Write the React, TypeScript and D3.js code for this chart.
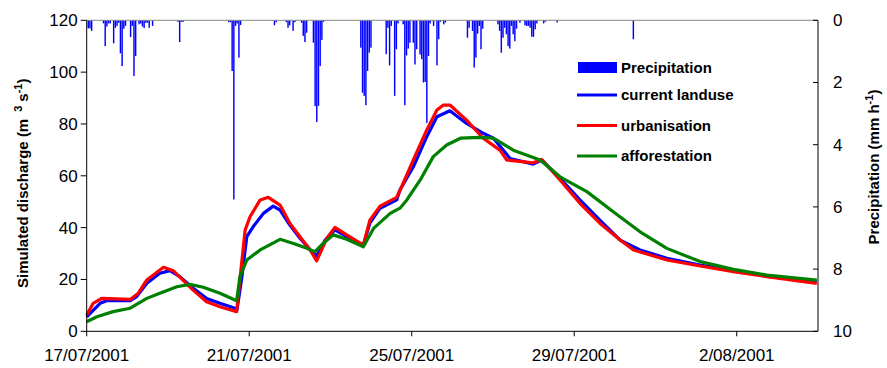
import * as d3 from "d3";

// discharge series: [day offset from 17/07/2001, m3/s]
const currentDays = [0, 0.33, 0.49, 1.07, 1.23, 1.48, 1.8, 2.05, 2.3, 2.62, 2.95, 3.28, 3.65, 3.7, 3.82, 3.94, 4.1, 4.35, 4.59, 4.76, 5.0, 5.25, 5.5, 5.66, 5.87, 6.11, 6.4, 6.81, 6.97, 7.22, 7.63, 7.71, 8.04, 8.37, 8.62, 8.94, 9.35, 9.76, 10.01, 10.42, 10.99, 11.2, 11.65, 12.14, 12.63, 13.13, 13.62, 14.28, 15.1, 15.92, 16.74, 17.97];
const currentQ = [5.6, 10.8, 11.8, 11.8, 13.4, 18.5, 22.4, 23.4, 21, 16.6, 12.7, 10.8, 8.9, 8.3, 21, 36.5, 40.4, 45.5, 48.3, 46.8, 41, 35.9, 31.4, 29, 35.2, 39.1, 36.5, 33.3, 41.7, 47.5, 50.7, 54.5, 63.5, 75.1, 82.8, 85.1, 80.2, 76.4, 74.5, 66.7, 64.5, 66.1, 59, 50.7, 42.9, 35.2, 31.4, 28.2, 25.6, 23.4, 21.3, 19.1];

const urbanDays = [0, 0.16, 0.37, 1.07, 1.27, 1.48, 1.89, 2.13, 2.62, 2.95, 3.28, 3.69, 3.77, 3.9, 4.02, 4.27, 4.47, 4.76, 5.0, 5.25, 5.5, 5.66, 5.91, 6.11, 6.4, 6.81, 6.97, 7.22, 7.63, 7.73, 8.04, 8.37, 8.62, 8.78, 8.94, 9.35, 9.76, 10.17, 10.34, 10.99, 11.2, 11.65, 12.14, 12.63, 13.13, 13.46, 14.28, 15.1, 15.92, 16.74, 17.97];
const urbanQ = [6.3, 10.8, 12.7, 12.3, 14.7, 19.8, 24.7, 23.4, 15.9, 11.4, 9.5, 7.6, 19.8, 39.1, 44.2, 50.7, 51.7, 48.7, 41.7, 36.5, 31.4, 27.2, 35.9, 40.1, 37.2, 33.3, 42.9, 48.3, 51.7, 55, 66.1, 77.7, 85.4, 87.3, 87.3, 81.5, 74.5, 69.9, 66.1, 65, 66.3, 58.4, 49.4, 41.7, 35.2, 31.4, 27.5, 25.2, 23, 21.1, 18.5];

const forestDays = [0, 0.25, 0.65, 1.07, 1.48, 1.8, 2.22, 2.54, 2.87, 3.28, 3.69, 3.77, 3.94, 4.27, 4.76, 5.09, 5.42, 5.62, 5.82, 6.07, 6.4, 6.81, 7.06, 7.47, 7.71, 7.88, 8.21, 8.53, 8.86, 9.2, 9.68, 10.01, 10.5, 11.16, 11.65, 12.31, 12.96, 13.62, 14.28, 15.1, 15.92, 16.74, 17.97];
const forestQ = [3.7, 5.6, 7.6, 8.9, 12.7, 14.7, 17.2, 18.1, 17, 14.7, 11.8, 21, 27.5, 31.4, 35.5, 33.9, 32, 30.7, 33.9, 37.2, 35.5, 32.6, 39.7, 45.5, 47.5, 50.7, 58.4, 67.4, 71.9, 74.5, 74.8, 74.5, 69.9, 66.1, 59.6, 53.9, 46.1, 38.4, 32, 26.9, 23.9, 21.7, 19.8];

// hourly precipitation: hour offset from 17/07/2001 00:00, mm/h
const precipHours = [1, 2, 3, 10, 11, 12, 13, 14, 16, 17, 18, 19, 20, 21, 22, 23, 26, 27, 28, 29, 31, 32, 33, 34, 35, 36, 37, 39, 54, 55, 56, 57, 84, 85, 86, 87, 88, 89, 90, 91, 111, 112, 118, 119, 120, 122, 123, 127, 128, 129, 130, 134, 135, 136, 137, 138, 139, 140, 162, 163, 164, 165, 166, 167, 168, 177, 178, 179, 180, 182, 183, 184, 187, 188, 189, 190, 191, 193, 194, 195, 197, 198, 199, 200, 201, 202, 203, 205, 207, 208, 209, 211, 212, 225, 226, 228, 229, 230, 231, 232, 233, 234, 243, 244, 245, 246, 247, 248, 249, 250, 251, 252, 253, 254, 256, 259, 260, 261, 262, 263, 264, 265, 266, 270, 271, 278, 323];
const precipMm = [0.26, 0.26, 0.34, 0.1, 0.83, 0.2, 0.1, 0.1, 0.74, 0.24, 0.18, 0.08, 1.06, 1.47, 0.27, 0.18, 0.54, 0.18, 1.79, 1.15, 0.13, 0.1, 0.2, 0.25, 0.08, 0.08, 0.24, 0.18, 0.05, 0.7, 0.05, 0.05, 0.06, 0.06, 1.63, 5.76, 0.18, 0.1, 1.2, 0.15, 0.16, 0.06, 0.06, 0.24, 0.16, 0.34, 0.06, 0.08, 0.5, 0.7, 0.4, 0.72, 2.76, 3.27, 2.75, 1.47, 0.63, 0.05, 0.88, 2.33, 2.43, 2.73, 1.63, 1.04, 0.88, 1.09, 0.24, 1.45, 0.18, 2.43, 0.93, 0.1, 0.13, 2.73, 1.13, 0.91, 0.72, 0.72, 1.42, 0.93, 1.1, 1.25, 2.0, 1.98, 3.3, 1.15, 0.1, 0.18, 1.45, 0.61, 0.05, 0.13, 0.07, 0.56, 0.24, 0.34, 1.52, 1.2, 0.43, 0.18, 0.93, 0.27, 0.13, 0.34, 1.04, 0.56, 0.24, 0.45, 0.83, 0.91, 0.18, 0.45, 0.67, 0.27, 0.08, 0.16, 0.18, 0.18, 0.24, 0.53, 0.53, 0.29, 0.1, 0.1, 0.05, 0.07, 0.61];

const xTickDays = [0, 4, 8, 12, 16];
const xTickLabels = ["17/07/2001", "21/07/2001", "25/07/2001", "29/07/2001", "2/08/2001"];
const qTicks = [0, 20, 40, 60, 80, 100, 120];
const pTicks = [0, 2, 4, 6, 8, 10];

const legendLines = [
  { label: "current landuse", color: "#0000ff" },
  { label: "urbanisation", color: "#ff0000" },
  { label: "afforestation", color: "#008000" },
];

const start = new Date(2001, 6, 17);
const toDate = (days: number) => new Date(start.getTime() + days * 864e5);

export default function App() {
  const width = 887;
  const height = 368;
  const left = 86.7;
  const right = 818;
  const top = 20.3;
  const bottom = 331.3;
  const font = "Liberation Sans, Arial, sans-serif";

  const x = d3.scaleTime().domain([start, toDate(18)]).range([left, right]);
  const yQ = d3.scaleLinear().domain([0, 120]).range([bottom, top]);
  const yP = d3.scaleLinear().domain([0, 10]).range([top, bottom]);

  const line = d3
    .line<[number, number]>()
    .x((d) => x(toDate(d[0])))
    .y((d) => yQ(d[1]));

  const series = [
    { days: currentDays, q: currentQ, color: "#0000ff" },
    { days: urbanDays, q: urbanQ, color: "#ff0000" },
    { days: forestDays, q: forestQ, color: "#008000" },
  ];

  const hourW = x(toDate(1 / 24)) - x(start);

  return (
    <svg
      width={width}
      height={height}
      style={{ position: "absolute", left: 0, top: 0, background: "#fff" }}
      fontFamily={font}
    >
      {/* precipitation bars hanging from the top */}
      {precipHours.map((h, i) => (
        <rect
          key={i}
          x={x(toDate(h / 24)) - hourW / 2}
          y={top}
          width={hourW * 0.85}
          height={yP(precipMm[i]) - top}
          fill="#0000ff"
        />
      ))}

      {/* top border */}
      <line x1={left} x2={right} y1={top} y2={top} stroke="#888" strokeWidth={1} />

      {/* discharge lines */}
      {series.map((s, i) => (
        <path
          key={i}
          d={line(s.days.map((d, j) => [d, s.q[j]] as [number, number])) ?? ""}
          fill="none"
          stroke={s.color}
          strokeWidth={3.2}
          strokeLinejoin="round"
        />
      ))}

      {/* left axis */}
      <line x1={left} x2={left} y1={top} y2={bottom} stroke="#000" />
      {qTicks.map((t) => (
        <g key={t}>
          <line x1={left - 6} x2={left} y1={yQ(t)} y2={yQ(t)} stroke="#000" />
          <text x={left - 9} y={yQ(t)} dy="0.35em" textAnchor="end" fontSize={17}>
            {t}
          </text>
        </g>
      ))}

      {/* right axis */}
      <line x1={right} x2={right} y1={top} y2={bottom} stroke="#000" />
      {pTicks.map((t) => (
        <g key={t}>
          <line x1={right - 5} x2={right} y1={yP(t)} y2={yP(t)} stroke="#000" />
          <text x={right + 15} y={yP(t)} dy="0.35em" fontSize={17}>
            {t}
          </text>
        </g>
      ))}

      {/* bottom axis */}
      <line x1={left} x2={right} y1={bottom} y2={bottom} stroke="#000" />
      {xTickDays.map((d, i) => (
        <g key={d}>
          <line x1={x(toDate(d))} x2={x(toDate(d))} y1={bottom} y2={bottom + 5} stroke="#000" />
          <text x={x(toDate(d))} y={361} textAnchor="middle" fontSize={17}>
            {xTickLabels[i]}
          </text>
        </g>
      ))}

      {/* axis titles */}
      <text transform="translate(28,288) rotate(-90)" fontSize={15} fontWeight="bold">
        Simulated discharge (m
        <tspan dx={7} dy={-6} fontSize={11}>3</tspan>
        <tspan dx={4} dy={6}>s</tspan>
        <tspan dy={-6} fontSize={11}>-1</tspan>
        <tspan dy={6}>)</tspan>
      </text>
      <text
        transform="translate(879,167) rotate(-90)"
        textAnchor="middle"
        fontSize={15}
        fontWeight="bold"
      >
        Precipitation (mm h<tspan dy={-6} fontSize={11}>-1</tspan>
        <tspan dy={6}>)</tspan>
      </text>

      {/* legend */}
      <rect x={578} y={62} width={39} height={11} fill="#0000ff" />
      <text x={621} y={73} fontSize={15} fontWeight="bold">
        Precipitation
      </text>
      {legendLines.map((l, i) => (
        <g key={l.label}>
          <line x1={577} x2={617} y1={95 + i * 30.5} y2={95 + i * 30.5} stroke={l.color} strokeWidth={3} />
          <text x={621} y={100 + i * 30.5} fontSize={15} fontWeight="bold">
            {l.label}
          </text>
        </g>
      ))}
    </svg>
  );
}
